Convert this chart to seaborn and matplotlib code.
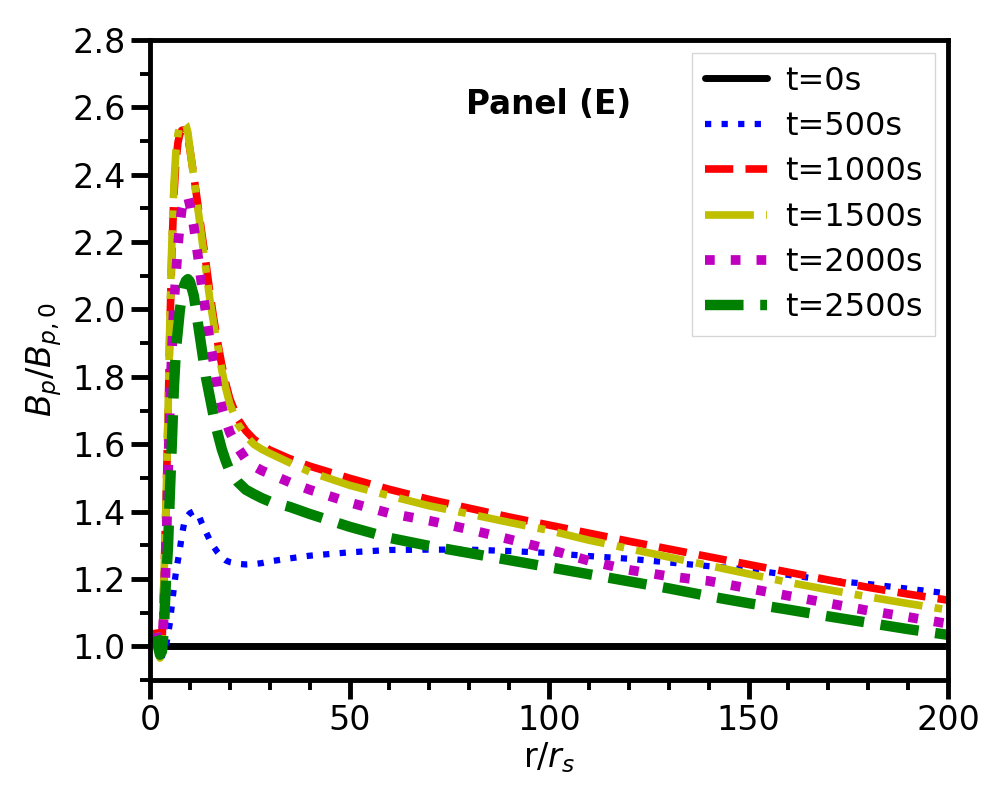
import matplotlib
matplotlib.use('Agg')
import matplotlib.pyplot as plt
from matplotlib.ticker import MultipleLocator
import seaborn as sns

# r/r_s grid shared by the evolving profiles
r = [1.5, 2, 2.5, 3, 3.5, 4, 4.5, 5, 5.5, 6, 6.5, 7, 7.5, 8, 8.5, 9, 9.5, 10,
     11, 12, 13, 14, 15, 16, 17, 18, 19, 20, 22, 24, 26, 28, 30, 35, 40,
     50, 60, 70, 80, 90, 100, 110, 120, 130, 140, 150, 160, 170, 180, 190, 200]

# t=0s initial profile (flat)
r0 = [1.5, 200]
b0 = [1.0, 1.0]

b500 = [1.03, 1.0, 0.98, 0.97, 0.98, 1.0, 1.035, 1.07, 1.125, 1.175, 1.22, 1.255, 1.29, 1.33,
        1.362, 1.378, 1.388, 1.395, 1.401, 1.395, 1.365, 1.34, 1.315, 1.295, 1.278, 1.264,
        1.255, 1.25, 1.245, 1.243, 1.244, 1.247, 1.252, 1.261, 1.269, 1.279, 1.286, 1.287,
        1.287, 1.283, 1.277, 1.268, 1.26, 1.249, 1.238, 1.228, 1.212, 1.196, 1.185, 1.171, 1.157]

b1000 = [1.05, 1.01, 0.975, 1.0, 1.2, 1.42, 1.67, 1.95, 2.18, 2.34, 2.44, 2.495, 2.522, 2.532,
         2.533, 2.527, 2.51, 2.475, 2.395, 2.31, 2.225, 2.14, 2.05, 1.97, 1.90, 1.835, 1.78,
         1.735, 1.675, 1.64, 1.615, 1.598, 1.583, 1.557, 1.535, 1.499, 1.466, 1.436, 1.41,
         1.384, 1.36, 1.336, 1.312, 1.289, 1.266, 1.243, 1.22, 1.197, 1.175, 1.155, 1.137]

b1500 = [1.04, 1.0, 0.965, 1.0, 1.2, 1.42, 1.68, 1.98, 2.21, 2.37, 2.47, 2.52, 2.545, 2.553,
         2.555, 2.548, 2.525, 2.478, 2.39, 2.30, 2.21, 2.12, 2.03, 1.955, 1.89, 1.82, 1.765,
         1.72, 1.66, 1.625, 1.60, 1.585, 1.573, 1.545, 1.518, 1.478, 1.447, 1.417, 1.393,
         1.368, 1.344, 1.315, 1.29, 1.265, 1.24, 1.215, 1.19, 1.168, 1.147, 1.127, 1.108]

b2000 = [1.04, 1.0, 0.97, 0.99, 1.10, 1.25, 1.50, 1.72, 1.88, 2.015, 2.10, 2.19, 2.255, 2.30,
         2.325, 2.335, 2.335, 2.31, 2.245, 2.16, 2.07, 1.99, 1.905, 1.84, 1.76, 1.71, 1.67,
         1.635, 1.59, 1.555, 1.535, 1.522, 1.512, 1.487, 1.465, 1.427, 1.395, 1.373, 1.347,
         1.318, 1.288, 1.254, 1.227, 1.208, 1.194, 1.172, 1.15, 1.128, 1.106, 1.087, 1.067]

b2500 = [1.03, 1.0, 0.975, 0.985, 1.056, 1.196, 1.29, 1.46, 1.61, 1.77, 1.88, 1.94, 2.0, 2.04,
         2.07, 2.085, 2.09, 2.083, 2.04, 1.96, 1.88, 1.80, 1.74, 1.68, 1.63, 1.585, 1.55,
         1.52, 1.488, 1.465, 1.452, 1.44, 1.43, 1.414, 1.393, 1.355, 1.322, 1.298, 1.277,
         1.256, 1.235, 1.214, 1.193, 1.172, 1.149, 1.128, 1.109, 1.089, 1.07, 1.051, 1.034]

labels = ['t=0s', 't=500s', 't=1000s', 't=1500s', 't=2000s', 't=2500s']
colors = ['k', 'b', 'r', 'y', 'm', 'g']
styles = ['-', ':', '--', '-.', ':', '--']
widths = [5, 4.5, 5.5, 5.5, 7, 7.5]
xs = [r0, r, r, r, r, r]
ys = [b0, b500, b1000, b1500, b2000, b2500]

sns.set_style('ticks')
plt.rcParams['font.family'] = ['DejaVu Sans']
plt.rcParams['mathtext.fontset'] = 'dejavusans'
for key in ['text.color', 'axes.labelcolor', 'xtick.color', 'ytick.color', 'axes.edgecolor']:
    plt.rcParams[key] = 'black'

fig, ax = plt.subplots(figsize=(10, 8), dpi=100)
fig.subplots_adjust(left=0.15, right=0.948, top=0.95, bottom=0.15)

for x, y, lab, c, ls, lw in zip(xs, ys, labels, colors, styles, widths):
    sns.lineplot(x=x, y=y, ax=ax, color=c, linestyle=ls, linewidth=lw, label=lab)

ax.set_xlim(0, 200)
ax.set_ylim(0.9, 2.8)
ax.xaxis.set_major_locator(MultipleLocator(50))
ax.xaxis.set_minor_locator(MultipleLocator(10))
ax.yaxis.set_major_locator(MultipleLocator(0.2))
ax.yaxis.set_minor_locator(MultipleLocator(0.1))
ax.tick_params(which='major', direction='out', length=14, width=3.5, labelsize=24,
               color='k', labelcolor='k')
ax.tick_params(which='minor', direction='out', length=7, width=2.8, color='k')
for sp in ax.spines.values():
    sp.set_linewidth(3.5)
    sp.set_color('k')

ax.set_xlabel('r/$r_s$', fontsize=24, labelpad=2)
ax.set_ylabel('$B_p/B_{p,0}$', fontsize=24, labelpad=6)
ax.text(100, 2.61, 'Panel (E)', fontsize=23.5, fontweight='bold', ha='center', va='center')

leg = ax.legend(loc='upper right', fontsize=23, handlelength=1.95, handletextpad=0.55,
                labelspacing=0.45, borderpad=0.4, borderaxespad=0.4,
                frameon=True, fancybox=False, edgecolor='0.8')
for t in leg.get_texts():
    t.set_color('k')

plt.savefig('out.png', dpi=100)
